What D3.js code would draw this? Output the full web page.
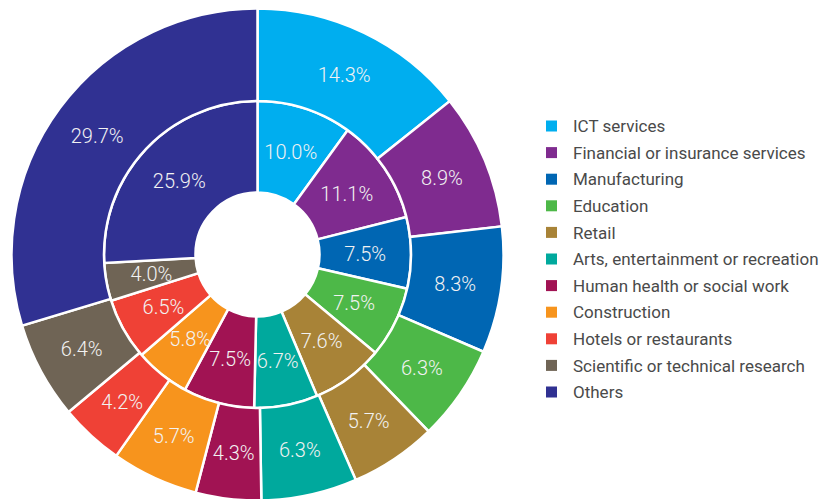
<!DOCTYPE html>
<html>
<head>
<meta charset="utf-8">
<script src="https://cdn.jsdelivr.net/npm/d3@7"></script>
<style>
  html, body { margin: 0; padding: 0; background: #fff; }
  svg { display: block; }
</style>
</head>
<body>
<svg id="chart" width="829" height="499"></svg>
<script>
const categories = [
  "ICT services",
  "Financial or insurance services",
  "Manufacturing",
  "Education",
  "Retail",
  "Arts, entertainment or recreation",
  "Human health or social work",
  "Construction",
  "Hotels or restaurants",
  "Scientific or technical research",
  "Others"
];
const outerValues = [14.3, 8.9, 8.3, 6.3, 5.7, 6.3, 4.3, 5.7, 4.2, 6.4, 29.7];
const innerValues = [10.0, 11.1, 7.5, 7.5, 7.6, 6.7, 7.5, 5.8, 6.5, 4.0, 25.9];
const colors = ["#00AEEF", "#7F2B8F", "#0066B3", "#4DB848", "#A88337",
                "#00A99D", "#A11353", "#F7941D", "#EF4136", "#6F6455", "#303192"];

const svg = d3.select("#chart");
const cx = 257.5, cy = 254.5;
const rHole = 62, rMid = 153.5, rOuter = 246;

const color = d3.scaleOrdinal().domain(categories).range(colors);
const pie = d3.pie().sort(null).value(d => d.v);

const g = svg.append("g").attr("transform", `translate(${cx},${cy})`);

function ring(values, r0, r1, cls) {
  const data = pie(values.map((v, i) => ({ v, c: categories[i] })));
  const arc = d3.arc().innerRadius(r0).outerRadius(r1);
  const rg = g.append("g").attr("class", cls);
  rg.selectAll("path").data(data).join("path")
    .attr("d", arc)
    .attr("fill", d => color(d.data.c))
    .attr("stroke", "#fff")
    .attr("stroke-width", 2.5)
    .attr("stroke-linejoin", "miter");
  rg.selectAll("text").data(data).join("text")
    .attr("transform", d => `translate(${arc.centroid(d)})`)
    .attr("text-anchor", "middle")
    .attr("dy", "0.36em")
    .attr("fill", "#f2f2f2")
    .style("font-family", "Roboto, sans-serif")
    .style("font-weight", 300)
    .style("font-size", "20px")
    .text(d => d.data.v.toFixed(1) + "%");
}
ring(innerValues, rHole, rMid, "inner");
ring(outerValues, rMid, rOuter, "outer");

const legend = svg.append("g").attr("transform", "translate(546,126)");
const ly = d3.scalePoint().domain(categories).range([0, 266]);
const items = legend.selectAll("g").data(categories).join("g")
  .attr("transform", d => `translate(0,${ly(d)})`);
items.append("rect")
  .attr("x", 0).attr("y", -5.5).attr("width", 11).attr("height", 11)
  .attr("fill", d => color(d));
items.append("text")
  .attr("x", 27).attr("dy", "0.36em")
  .attr("fill", "#4a4a4a")
  .style("font-family", "Roboto, sans-serif")
  .style("font-weight", 400)
  .style("font-size", "17px")
  .text(d => d);
</script>
</body>
</html>
